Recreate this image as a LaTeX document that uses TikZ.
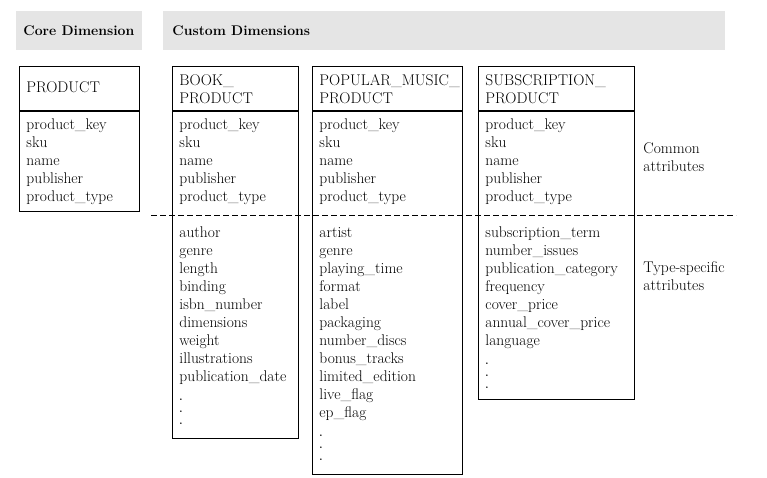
\documentclass[tikz,border=0pt]{standalone}
\usetikzlibrary{positioning}

\begin{document}
\begin{tikzpicture}[x=1pt, y=-1pt, line width=0.9pt,
        band/.style={fill=black!10, anchor=north west, minimum height=39pt, inner sep=0pt},
        bandtxt/.style={font=\fontsize{14}{18}\selectfont\bfseries, inner sep=0pt},
        head/.style={draw, anchor=north west, minimum height=44pt, inner sep=0pt},
        body/.style={draw, inner sep=0pt, below=0pt of #1},
        txt/.style={font=\fontsize{15.5}{18}\selectfont, align=left, inner sep=0pt},
        dot/.style={font=\fontsize{10}{11}\selectfont\bfseries, inner sep=0pt, anchor=base west}]

        \useasboundingbox (0,0) rectangle (767,477);

        % title bands
        \node[band, minimum width=126pt] (core) at (16,11) {};
        \node[band, minimum width=562pt] (custom) at (163,11) {};
        \node[bandtxt, right=7pt of core.west] (coretxt) {Core Dimension};
        \node[bandtxt, right=9pt of custom.west] (customtxt) {Custom Dimensions};

        % tables
        \node[head, minimum width=120pt] (prod) at (19,66) {};
        \node[body=prod, minimum width=120pt, minimum height=100pt] (prodbody) {};

        \node[head, minimum width=126pt] (book) at (172,66) {};
        \node[body=book, minimum width=126pt, minimum height=327pt] (bookbody) {};

        \node[head, minimum width=150pt] (music) at (312,66) {};
        \node[body=music, minimum width=150pt, minimum height=363pt] (musicbody) {};

        \node[head, minimum width=156pt] (subs) at (478,66) {};
        \node[body=subs, minimum width=156pt, minimum height=288pt] (subsbody) {};

        \node[txt, right=7pt of prod.west] (prodname) {\strut PRODUCT};
        \node[txt, right=7pt of book.west] (bookname) {\strut BOOK\_\\ PRODUCT};
        \node[txt, right=7pt of music.west] (musicname) {\strut POPULAR\_MUSIC\_\\ PRODUCT};
        \node[txt, right=7pt of subs.west] (subsname) {\strut SUBSCRIPTION\_\\ PRODUCT};

        \node[txt, below right=6pt and 7pt of prodbody.north west] (prodattr)
            {\strut product\_key\\ sku\\ name\\ publisher\\ product\_type};
        \node[txt, below right=6pt and 7pt of bookbody.north west] (bookattr)
            {\strut product\_key\\ sku\\ name\\ publisher\\ product\_type\\[18pt]
             author\\ genre\\ length\\ binding\\ isbn\_number\\ dimensions\\ weight\\
             illustrations\\ publication\_date\strut};
        \node[txt, below right=6pt and 7pt of musicbody.north west] (musicattr)
            {\strut product\_key\\ sku\\ name\\ publisher\\ product\_type\\[18pt]
             artist\\ genre\\ playing\_time\\ format\\ label\\ packaging\\ number\_discs\\
             bonus\_tracks\\ limited\_edition\\ live\_flag\\ ep\_flag\strut};
        \node[txt, below right=6pt and 7pt of subsbody.north west] (subsattr)
            {\strut product\_key\\ sku\\ name\\ publisher\\ product\_type\\[18pt]
             subscription\_term\\ number\_issues\\ publication\_category\\ frequency\\
             cover\_price\\ annual\_cover\_price\\ language\strut};

        % the lists go on
        \foreach \t in {book, music, subs}
            \foreach \i in {1,2,3}
                \node[dot] (\t dot\i) at ([yshift={-0.6pt-12pt*\i}]\t attr.south west) {.};

        % split between common and type-specific attributes
        \coordinate (dl) at (151,215);
        \coordinate (dr) at (736,215);
        \draw[line width=0.8pt, dash pattern=on 6pt off 3pt] (dl) -- (dr);

        \node[txt, anchor=west] (common) at (643,156) {\strut Common\\ attributes};
        \node[txt, anchor=west] (specific) at (643,275) {\strut Type-specific\\ attributes};

\end{tikzpicture}
\end{document}
